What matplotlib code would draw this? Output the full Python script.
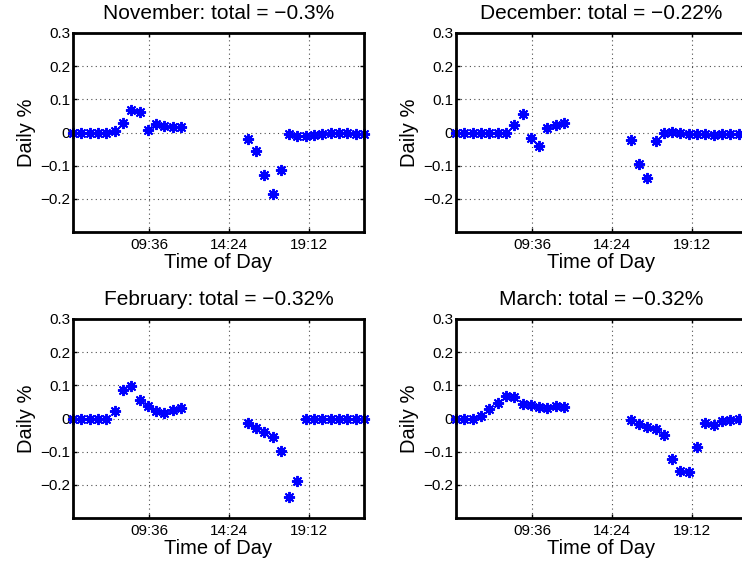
import matplotlib
matplotlib.use("Agg")
from matplotlib import pyplot as plt

plt.rcParams['font.family'] = ['Liberation Sans', 'DejaVu Sans']

# horas das observações (intervalos de 30 min, sem o meio do dia)
horas_manha = ["05:00", "05:30", "06:00", "06:30", "07:00", "07:30", "08:00",
               "08:30", "09:00", "09:30", "10:00", "10:30", "11:00", "11:30"]
horas_tarde = ["15:30", "16:00", "16:30", "17:00", "17:30", "18:00", "18:30",
               "19:00", "19:30", "20:00", "20:30", "21:00", "21:30", "22:00", "22:30"]

titulos = ["November: total = \u22120.3%", "December: total = \u22120.22%",
           "February: total = \u22120.32%", "March: total = \u22120.32%"]

nov_manha = [0, 0, 0, 0, 0, 0.006, 0.028, 0.068, 0.062, 0.008, 0.026, 0.021, 0.016, 0.018]
nov_tarde = [-0.019, -0.055, -0.129, -0.186, -0.114, -0.006, -0.010, -0.012,
             -0.009, -0.006, -0.003, -0.002, -0.002, -0.004, -0.004]

dez_manha = [0, 0, 0, 0, 0, 0, 0, 0.022, 0.055, -0.017, -0.040, 0.013, 0.023, 0.028]
dez_tarde = [-0.024, -0.096, -0.138, -0.025, -0.002, 0.001, -0.002, -0.004,
             -0.005, -0.006, -0.007, -0.006, -0.005, -0.004, -0.003]

fev_manha = [0, 0, 0, 0, 0, 0.022, 0.087, 0.097, 0.055, 0.037, 0.022, 0.017, 0.027, 0.032]
fev_tarde = [-0.013, -0.028, -0.041, -0.055, -0.099, -0.236, -0.188, -0.003,
             -0.003, -0.001, -0.001, 0, 0, 0, -0.001]

mar_manha = [0, 0, -0.003, 0.007, 0.030, 0.047, 0.067, 0.065, 0.045, 0.040, 0.034, 0.031, 0.037, 0.034]
mar_tarde = [-0.006, -0.016, -0.025, -0.033, -0.050, -0.123, -0.158, -0.160,
             -0.086, -0.013, -0.021, -0.008, -0.006, -0.003, -0.002]

series = [(nov_manha, nov_tarde), (dez_manha, dez_tarde),
          (fev_manha, fev_tarde), (mar_manha, mar_tarde)]

xticks = [9.6, 14.4, 19.2]
xtick_labels = ["09:36", "14:24", "19:12"]
yticks = [-0.2, -0.1, 0, 0.1, 0.2, 0.3]
ytick_labels = ["\u22120.2", "\u22120.1", "0", "0.1", "0.2", "0.3"]


def em_horas(lista):
    return [int(h[:2]) + int(h[3:]) / 60 for h in lista]


W, H = 742, 565
fig = plt.figure(figsize=(W / 100, H / 100), dpi=100)

# posições em pixels: (esquerda, topo) de cada eixo
posicoes = [(73, 33), (456, 33), (73, 319), (456, 319)]
larg, alt = 291, 199

for (x0, y0), titulo, (manha, tarde) in zip(posicoes, titulos, series):
    ax = fig.add_axes([x0 / W, (H - y0 - alt) / H, larg / W, alt / H])
    for horas, vals in [(horas_manha, manha), (horas_tarde, tarde)]:
        ax.plot(em_horas(horas), vals, linestyle='none', marker=(8, 2, 0),
                markersize=8, markeredgewidth=1.4, color='#0000ff', clip_on=False)
    ax.set_xlim(5, 22.5)
    ax.set_ylim(-0.3, 0.3)
    ax.set_xticks(xticks)
    ax.set_xticklabels(xtick_labels)
    ax.set_yticks(yticks)
    ax.set_yticklabels(ytick_labels)
    ax.tick_params(direction='in', length=3, width=1, labelsize=11,
                   top=True, right=True)
    ax.tick_params(axis='x', pad=4)
    ax.tick_params(axis='y', pad=2)
    ax.grid(True, linestyle=(0, (1, 3)), color='0.3', linewidth=0.8)
    for sp in ax.spines.values():
        sp.set_linewidth(2)
    ax.set_title(titulo, fontsize=15, pad=10)
    ax.set_xlabel("Time of Day", fontsize=14.5, labelpad=1)
    ax.set_ylabel("Daily %", fontsize=14.5, labelpad=3)

fig.savefig("out.png", dpi=100)
